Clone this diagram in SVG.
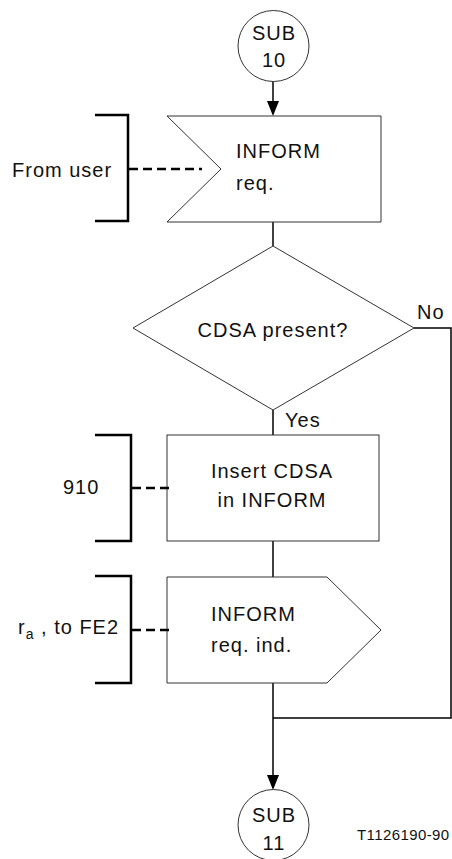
<svg xmlns="http://www.w3.org/2000/svg" width="452" height="859" viewBox="0 0 452 859">
<style>
.shape{fill:#fff;stroke:#333;stroke-width:1}
.conn{fill:none;stroke:#000;stroke-width:1.5}
.br{fill:none;stroke:#000;stroke-width:2.5}
.dash{fill:none;stroke:#000;stroke-width:2.5;stroke-dasharray:9,5}
text{font-family:"Liberation Sans",Arial,sans-serif;font-size:20px;letter-spacing:1px;fill:#111}
.c{text-anchor:middle}
.small{font-size:15px;letter-spacing:0.4px}
</style>
<rect width="452" height="859" fill="#fff"/>
<g id="connectors">
<line class="conn" x1="273" y1="81" x2="273" y2="101"/>
<path d="M267,101 L279,101 L273,116 Z" fill="#000"/>
<line class="conn" x1="273" y1="222" x2="273" y2="246"/>
<line class="conn" x1="273" y1="410" x2="273" y2="435"/>
<line class="conn" x1="273" y1="541" x2="273" y2="577"/>
<polyline class="conn" points="414,328 451,328 451,718 273,718"/>
<line class="conn" x1="273" y1="683" x2="273" y2="776"/>
<path d="M267,775 L279,775 L273,790 Z" fill="#000"/>
<text x="417" y="319">No</text>
<text x="285" y="427">Yes</text>
</g>
<g id="sub10">
<circle class="shape" cx="273.5" cy="46" r="35.5"/>
<text class="c" x="274" y="40">SUB</text>
<text class="c" x="274" y="67">10</text>
</g>
<g id="input">
<polygon class="shape" points="167,116 381,116 381,222 167,222 221,169"/>
<text x="236" y="158">INFORM</text>
<text x="236" y="190">req.</text>
</g>
<g id="fromuser">
<polyline class="br" points="95,115 128,115 128,221 95,221"/>
<line class="dash" x1="129" y1="169" x2="202" y2="169"/>
<text x="12" y="177">From user</text>
</g>
<g id="decision">
<polygon class="shape" points="273,246 414,328 273,410 133,328"/>
<text class="c" x="273" y="337">CDSA present?</text>
</g>
<g id="task">
<rect class="shape" x="167" y="435" width="212" height="106"/>
<text class="c" x="272" y="478">Insert CDSA</text>
<text class="c" x="272" y="507">in INFORM</text>
</g>
<g id="c910">
<polyline class="br" points="95,435 131,435 131,541 95,541"/>
<line class="dash" x1="132" y1="488" x2="170" y2="488"/>
<text x="63" y="494">910</text>
</g>
<g id="output">
<polygon class="shape" points="167,577 327,577 381,630 327,683 167,683"/>
<text x="211" y="621">INFORM</text>
<text x="211" y="652">req. ind.</text>
</g>
<g id="cra">
<polyline class="br" points="95,576 131,576 131,683 95,683"/>
<line class="dash" x1="132" y1="630" x2="170" y2="630"/>
<text x="18" y="634">r<tspan style="font-size:14px" dy="5">a</tspan><tspan dy="-5"> , to FE2</tspan></text>
</g>
<g id="sub11">
<circle class="shape" cx="273.5" cy="825" r="35.5"/>
<text class="c" x="274" y="822">SUB</text>
<text class="c" x="274" y="850">11</text>
</g>
<text class="small" x="357" y="840">T1126190-90</text>
</svg>
